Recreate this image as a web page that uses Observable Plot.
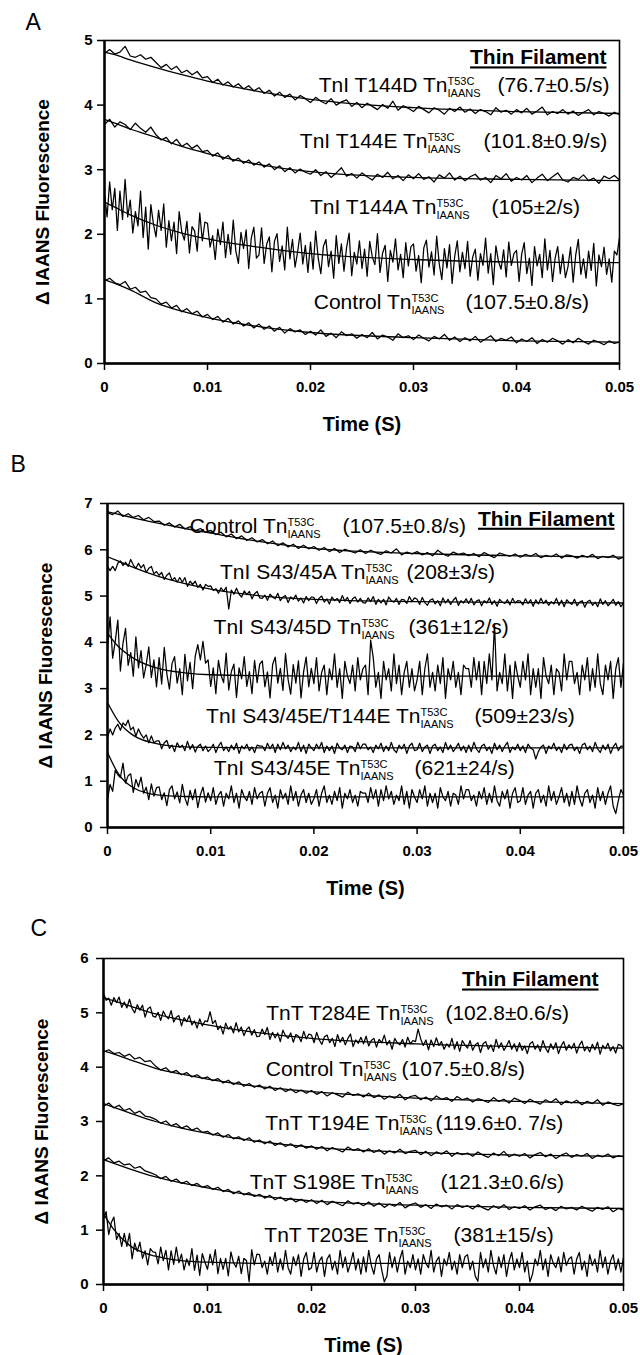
<!DOCTYPE html>
<html><head><meta charset="utf-8">
<script src="https://cdn.jsdelivr.net/npm/d3@7"></script>
<script src="https://cdn.jsdelivr.net/npm/@observablehq/plot@0.6"></script>
<style>body{margin:0;background:#fff;} svg{display:block;}</style>
</head><body><div id="chart"></div>
<script>
// ---------- shared ----------
const traceSpan = 0.05;                // every recorded trace covers 0–0.05 s, evenly sampled
const xTicks = [0, 0.01, 0.02, 0.03, 0.04, 0.05];
const fitTimes = [0, 0.001, 0.0025, 0.005, 0.0075, 0.01, 0.015, 0.02, 0.03, 0.04, 0.05];
const supText = "T53C";
const subText = "IAANS";
const thinText = "Thin Filament";

// ---------- Panel A ----------
const aYTicks = [0, 1, 2, 3, 4, 5];
const aT144D = [4.80,4.86,4.79,4.82,4.91,4.76,4.74,4.78,4.71,4.74, 4.66,4.58,4.63,4.55,4.60,4.50,4.54,4.47,4.52,4.42, 4.44,4.35,4.40,4.31,4.36,4.28,4.33,4.25,4.30,4.22, 4.27,4.18,4.23,4.14,4.20,4.12,4.17,4.08,4.15,4.10, 4.04,4.12,4.06,4.02,4.10,4.00,4.05,4.08,3.98,4.04, 3.96,4.03,3.98,3.93,4.01,3.95,4.06,3.92,3.99,3.95, 3.90,3.98,3.93,3.88,3.96,3.92,3.86,3.95,3.90,3.97, 3.89,3.94,3.87,3.93,3.90,3.85,3.96,3.89,3.92,3.86, 3.93,3.88,3.95,3.86,3.91,3.97,3.85,3.90,3.87,3.93, 3.86,3.91,3.84,3.89,3.93,3.85,3.90,3.87,3.83,3.89, 3.85];
const aT144E = [3.70,3.78,3.66,3.74,3.70,3.62,3.72,3.64,3.58,3.66, 3.54,3.46,3.50,3.40,3.47,3.36,3.41,3.33,3.38,3.28, 3.30,3.21,3.26,3.16,3.22,3.13,3.18,3.10,3.15,3.07, 3.12,3.04,3.09,3.00,3.06,2.97,3.03,2.95,3.01,2.96, 2.93,3.00,2.91,2.97,2.88,2.95,3.03,2.90,2.94,2.87, 2.95,2.89,2.84,2.93,2.88,2.96,2.86,2.91,2.83,2.92, 2.86,2.94,2.85,2.89,2.81,2.92,2.87,2.95,2.84,2.90, 2.83,2.89,2.93,2.84,2.88,2.80,2.91,2.86,2.94,2.82, 2.88,2.84,2.91,2.80,2.87,2.93,2.83,2.89,2.95,2.84, 2.81,2.88,2.85,2.92,2.83,2.87,2.79,2.90,2.86,2.91, 2.84];
const aT144A = [2.64,2.27,2.81,2.38,2.71,2.06,2.67,2.23,2.85,2.27,2.53,2.02,2.35,2.13,2.67,1.95,2.42,1.77,2.46,2.16,
 1.96,2.37,2.06,2.47,1.80,2.21,1.90,2.19,1.70,2.35,2.04,1.91,2.20,1.71,2.12,2.05,1.74,2.33,1.90,2.19,
 2.17,1.80,1.98,1.61,2.08,1.84,2.19,1.64,2.00,1.69,2.22,1.74,1.55,2.03,1.78,2.07,1.47,1.94,2.11,1.63,
 1.68,2.10,1.55,1.85,1.96,1.42,1.89,2.01,1.58,1.82,1.45,2.11,1.62,1.92,1.49,1.73,2.02,1.54,1.83,1.41,
 1.88,1.46,2.05,1.63,1.39,1.81,1.92,1.50,1.74,1.32,1.98,1.55,1.85,1.43,1.79,2.02,1.36,1.72,1.54,1.90,
 1.47,1.77,1.35,1.89,1.65,1.53,2.01,1.41,1.71,1.83,1.27,1.75,1.57,1.93,1.45,1.69,1.33,1.87,1.51,1.81,
 1.85,1.43,1.67,1.25,1.79,1.91,1.49,1.73,1.37,1.97,1.54,1.30,1.78,1.48,1.84,1.24,1.66,1.90,1.42,1.72,
 1.47,1.89,1.35,1.65,1.77,1.29,1.70,1.52,1.94,1.40,1.70,1.22,1.82,1.58,1.46,1.76,1.34,1.88,1.52,1.70,
 1.75,1.27,1.69,1.87,1.39,1.63,1.21,1.81,1.51,1.69,1.33,1.93,1.45,1.75,1.27,1.63,1.81,1.39,1.69,1.33,
 1.50,1.80,1.26,1.68,1.92,1.38,1.62,1.32,1.74,1.44,1.86,1.20,1.68,1.50,1.80,1.38,1.62,1.26,1.74,1.68,
 1.95];
const aControl = [1.28,1.32,1.25,1.22,1.27,1.15,1.18,1.10,1.12,1.02, 1.00,0.92,0.95,0.86,0.90,0.80,0.85,0.77,0.81,0.72, 0.76,0.68,0.73,0.64,0.70,0.61,0.66,0.58,0.63,0.55, 0.61,0.53,0.58,0.50,0.56,0.47,0.54,0.49,0.52,0.45, 0.50,0.44,0.52,0.42,0.47,0.40,0.49,0.43,0.46,0.39, 0.45,0.40,0.48,0.38,0.44,0.41,0.36,0.46,0.40,0.43, 0.37,0.44,0.39,0.35,0.42,0.38,0.45,0.36,0.41,0.34, 0.40,0.35,0.42,0.33,0.38,0.43,0.34,0.39,0.36,0.41, 0.32,0.38,0.34,0.40,0.31,0.37,0.33,0.39,0.35,0.30, 0.37,0.32,0.39,0.34,0.30,0.36,0.33,0.29,0.35,0.31, 0.33];
const aFitT144D = [4.82,4.78,4.70,4.58,4.47,4.37,4.21,4.09,3.96,3.90,3.87];
const aFitT144E = [3.78,3.72,3.63,3.50,3.36,3.25,3.08,2.97,2.88,2.85,2.83];
const aFitT144A = [2.50,2.42,2.30,2.14,2.02,1.93,1.80,1.70,1.61,1.57,1.56];
const aFitControl = [1.30,1.24,1.14,0.94,0.81,0.71,0.57,0.48,0.40,0.35,0.33];
const aLabelPrefix = ["TnI T144D Tn", "TnI T144E Tn", "TnI T144A Tn", "Control Tn"];
const aLabelRate = ["(76.7±0.5/s)", "(101.8±0.9/s)", "(105±2/s)", "(107.5±0.8/s)"];
const aLabelY = [4.21, 3.33, 2.32, 0.836];
const aLabelJoinX = [0.0333, 0.03136, 0.03223, 0.0298];
const aLabelRateX = [0.03816, 0.0368, 0.03757, 0.03505];

// ---------- Panel B ----------
const bYTicks = [0, 1, 2, 3, 4, 5, 6, 7];
const bControl = [6.80,6.76,6.84,6.72,6.78,6.70,6.74,6.65,6.70,6.61, 6.62,6.53,6.58,6.49,6.55,6.45,6.50,6.41,6.46,6.38, 6.42,6.33,6.38,6.28,6.34,6.24,6.30,6.20,6.26,6.17, 6.22,6.13,6.19,6.09,6.15,6.06,6.12,6.03,6.10,6.02, 6.07,5.99,6.05,5.96,6.03,5.94,6.01,5.97,5.93,6.00, 5.92,5.99,5.94,5.90,5.98,5.93,6.02,5.89,5.95,5.91, 5.96,5.89,5.94,5.87,5.99,5.91,5.86,5.95,5.90,5.93, 5.87,5.92,5.85,5.94,5.88,5.83,5.93,5.89,5.86,5.91, 5.84,5.90,5.86,5.92,5.83,5.88,5.85,5.91,5.82,5.89, 5.87,5.82,5.88,5.84,5.90,5.81,5.86,5.83,5.88,5.80, 5.84];
const bS4345A = [5.64,5.55,5.64,5.55,5.71,5.76,5.66,5.73,5.64,5.79,5.67,5.60,5.71,5.61,5.68,5.51,5.60,5.64,5.48,5.53,
 5.45,5.51,5.36,5.45,5.50,5.34,5.40,5.30,5.40,5.30,5.40,5.21,5.32,5.25,5.32,5.19,5.25,5.13,5.25,5.21,
 5.22,5.12,5.16,5.06,5.18,5.10,5.19,4.72,5.13,5.04,5.17,5.04,4.98,5.11,5.03,5.10,4.94,5.05,5.10,4.96,
 4.95,5.02,4.91,5.04,4.98,4.94,5.06,4.90,4.98,5.01,4.86,4.98,4.93,5.02,4.89,4.96,4.85,4.99,4.90,4.98,
 4.97,4.84,4.95,5.00,4.87,4.94,4.83,4.98,4.90,4.95,4.86,5.01,4.89,4.97,4.84,4.94,4.98,4.87,4.95,4.86,
 4.85,4.96,4.88,4.99,4.82,4.93,4.85,4.93,4.81,4.98,4.90,4.87,4.95,4.82,4.93,4.92,4.84,4.99,4.88,4.96,
 4.93,4.82,4.97,4.86,4.80,4.91,4.94,4.83,4.90,4.79,4.96,4.85,4.93,4.82,4.91,4.97,4.80,4.90,4.85,4.94,
 4.84,4.95,4.81,4.89,4.92,4.79,4.90,4.85,4.96,4.82,4.90,4.78,4.93,4.87,4.84,4.92,4.81,4.95,4.85,4.90,
 4.89,4.81,4.94,4.84,4.92,4.78,4.92,4.83,4.95,4.84,4.91,4.80,4.88,4.83,4.95,4.80,4.91,4.77,4.92,4.86,
 4.82,4.93,4.79,4.87,4.90,4.76,4.88,4.91,4.80,4.87,4.77,4.94,4.82,4.90,4.79,4.85,4.93,4.80,4.88,4.77,
 4.86];
const bS4345D = [3.89,4.55,3.66,4.02,4.48,3.38,3.98,4.30,3.50,3.78,3.27,4.12,3.45,3.82,3.23,3.52,3.90,3.24,3.62,3.04,
 3.67,3.10,3.89,3.32,2.99,3.54,3.69,3.12,3.43,2.87,3.74,3.17,3.57,3.00,3.70,3.95,3.62,4.02,3.55,3.62,
 3.05,3.45,2.89,3.61,3.29,3.13,3.77,2.97,3.37,3.53,2.81,3.45,3.21,3.69,3.05,3.37,2.89,3.61,3.13,3.53,
 3.60,3.04,3.36,2.80,3.52,3.68,3.12,3.44,2.96,3.76,3.20,2.88,3.52,3.12,3.60,2.80,3.36,3.68,3.04,3.44,
 3.11,3.67,2.95,3.35,3.51,2.87,3.43,3.19,3.75,3.03,3.43,2.79,3.59,3.27,3.11,3.51,2.95,3.67,3.19,3.43,
 3.51,2.87,4.05,3.67,3.03,3.35,2.79,3.59,3.19,3.43,2.95,3.75,3.11,3.51,2.87,3.35,3.59,3.03,3.43,2.95,
 3.19,3.59,2.87,3.43,3.75,3.03,3.35,2.95,3.51,3.11,3.67,2.79,3.43,3.19,3.59,3.03,3.35,2.87,3.51,3.43,
 3.43,3.03,3.67,3.19,3.59,2.87,3.59,3.11,3.75,3.19,4.40,2.95,3.35,3.11,3.75,2.95,3.51,2.79,3.59,3.27,
 3.03,3.59,3.19,3.75,2.87,3.43,3.03,3.43,2.79,3.67,3.27,3.11,3.51,2.87,3.43,3.35,2.95,3.75,3.19,3.59,
 3.59,3.11,3.35,2.87,3.51,3.19,3.67,2.95,3.43,3.03,3.75,3.11,2.87,3.51,3.19,3.59,2.79,3.43,3.67,3.03,
 3.55];
const bS4345ET144E = [1.94,2.13,2.00,2.15,2.23,2.10,2.26,2.20,2.32,2.11,2.17,1.97,2.13,2.01,1.93,2.00,1.83,1.98,1.83,1.87,
 1.87,1.70,1.83,1.88,1.71,1.78,1.64,1.83,1.73,1.78,1.66,1.86,1.69,1.79,1.63,1.75,1.80,1.66,1.76,1.64,
 1.70,1.80,1.62,1.76,1.84,1.66,1.74,1.64,1.78,1.68,1.82,1.60,1.76,1.70,1.80,1.66,1.74,1.62,1.78,1.76,
 1.76,1.66,1.82,1.70,1.80,1.62,1.80,1.68,1.84,1.70,1.78,1.64,1.74,1.68,1.84,1.64,1.78,1.60,1.80,1.72,
 1.66,1.80,1.70,1.84,1.62,1.76,1.66,1.76,1.60,1.82,1.72,1.68,1.78,1.62,1.76,1.74,1.64,1.84,1.70,1.80,
 1.80,1.68,1.74,1.62,1.78,1.70,1.82,1.64,1.76,1.66,1.84,1.68,1.62,1.78,1.70,1.80,1.60,1.76,1.82,1.66,
 1.68,1.82,1.64,1.74,1.78,1.60,1.76,1.80,1.66,1.74,1.62,1.84,1.68,1.78,1.64,1.72,1.82,1.66,1.76,1.62,
 1.78,1.64,1.84,1.70,1.62,1.76,1.80,1.66,1.74,1.60,1.82,1.68,1.78,1.64,1.76,1.84,1.62,1.74,1.68,1.80,
 1.66,1.76,1.62,1.80,1.72,1.68,1.48,1.64,1.74,1.78,1.60,1.76,1.70,1.82,1.66,1.74,1.62,1.80,1.68,1.78,
 1.80,1.66,1.74,1.60,1.78,1.82,1.68,1.76,1.64,1.84,1.70,1.62,1.78,1.68,1.80,1.60,1.74,1.82,1.66,1.76,
 1.76];
const bS4345E = [0.60,0.93,0.78,1.24,1.14,1.08,1.39,0.96,1.12,1.16,0.76,1.04,0.88,1.09,0.74,0.87,0.60,0.94,0.68,0.86,
 0.88,0.60,0.75,0.47,0.82,0.90,0.62,0.77,0.53,0.93,0.64,0.48,0.80,0.60,0.83,0.43,0.71,0.87,0.55,0.75,
 0.58,0.86,0.50,0.70,0.78,0.46,0.74,0.62,0.90,0.54,0.74,0.42,0.82,0.66,0.58,0.78,0.50,0.86,0.62,0.74,
 0.78,0.46,0.74,0.86,0.54,0.70,0.42,0.82,0.62,0.74,0.50,0.90,0.58,0.78,0.46,0.70,0.82,0.54,0.74,0.50,
 0.62,0.82,0.46,0.74,0.90,0.54,0.70,0.50,0.78,0.58,0.86,0.42,0.74,0.62,0.82,0.54,0.70,0.46,0.78,0.74,
 0.74,0.54,0.86,0.62,0.82,0.46,0.82,0.58,0.90,0.62,0.78,0.50,0.70,0.58,0.90,0.50,0.78,0.42,0.82,0.66,
 0.54,0.82,0.62,0.90,0.46,0.74,0.54,0.74,0.42,0.86,0.66,0.58,0.78,0.46,0.74,0.70,0.50,0.90,0.62,0.82,
 0.82,0.58,0.70,0.46,0.78,0.62,0.86,0.50,0.74,0.54,0.90,0.58,0.46,0.78,0.62,0.82,0.42,0.74,0.86,0.54,
 0.58,0.86,0.50,0.70,0.78,0.42,0.74,0.82,0.54,0.70,0.46,0.90,0.58,0.78,0.50,0.66,0.86,0.54,0.74,0.46,
 0.78,0.50,0.90,0.62,0.46,0.74,0.82,0.54,0.70,0.42,0.86,0.58,0.78,0.50,0.74,0.90,0.46,0.30,0.58,0.82,
 0.70];
const bFitControl = [6.82,6.77,6.69,6.57,6.46,6.36,6.17,6.03,5.92,5.87,5.84];
const bFitS4345A = [5.85,5.76,5.62,5.42,5.27,5.15,5.00,4.93,4.88,4.86,4.85];
const bFitS4345D = [4.20,3.92,3.66,3.43,3.34,3.30,3.28,3.27,3.27,3.27,3.27];
const bFitS4345ET144E = [2.70,2.31,1.99,1.80,1.74,1.73,1.72,1.72,1.72,1.72,1.72];
const bFitS4345E = [1.62,1.18,0.86,0.70,0.67,0.66,0.66,0.66,0.66,0.66,0.66];
const bLabelPrefix = ["Control Tn", "TnI S43/45A Tn", "TnI S43/45D Tn", "TnI S43/45E/T144E Tn", "TnI S43/45E Tn"];
const bLabelRate = ["(107.5±0.8/s)", "(208±3/s)", "(361±12/s)", "(509±23/s)", "(621±24/s)"];
const bLabelY = [6.37, 5.36, 4.19, 2.25, 1.145];
const bLabelJoinX = [0.01744, 0.0250, 0.02461, 0.03033, 0.02452];
const bLabelRateX = [0.02277, 0.02897, 0.02917, 0.03556, 0.02975];

// ---------- Panel C ----------
const cYTicks = [0, 1, 2, 3, 4, 5, 6];
const cT284E = [5.36,5.23,5.27,5.14,5.28,5.19,5.29,5.10,5.20,5.09,5.25,5.08,5.00,5.15,5.05,5.14,4.92,5.07,5.11,4.94,
 4.92,5.01,4.86,5.03,4.94,4.89,5.04,4.83,4.92,4.95,4.76,4.91,4.84,4.95,4.78,4.85,4.72,4.89,4.76,4.85,
 4.84,5.02,4.80,4.86,4.69,4.76,4.61,4.81,4.70,4.75,4.63,4.82,4.65,4.74,4.58,4.69,4.74,4.59,4.69,4.56,
 4.57,4.70,4.60,4.73,4.51,4.64,4.54,4.63,4.47,4.68,4.58,4.53,4.63,4.46,4.60,4.57,4.47,4.66,4.52,4.61,
 4.59,4.45,4.64,4.50,4.42,4.56,4.59,4.45,4.53,4.38,4.60,4.46,4.55,4.41,4.53,4.61,4.38,4.50,4.44,4.55,
 4.43,4.57,4.39,4.49,4.53,4.37,4.51,4.45,4.59,4.41,4.49,4.33,4.53,4.45,4.41,4.51,4.37,4.55,4.43,4.49,
 4.47,4.70,4.52,4.40,4.50,4.32,4.50,4.38,4.54,4.40,4.47,4.33,4.43,4.37,4.53,4.33,4.47,4.29,4.49,4.41,
 4.35,4.49,4.31,4.41,4.45,4.27,4.43,4.47,4.33,4.41,4.29,4.51,4.35,4.45,4.31,4.39,4.49,4.33,4.43,4.29,
 4.45,4.31,4.39,4.25,4.43,4.47,4.33,4.41,4.29,4.49,4.35,4.27,4.43,4.33,4.45,4.25,4.39,4.47,4.31,4.41,
 4.34,4.44,4.26,4.40,4.48,4.30,4.38,4.28,4.42,4.32,4.46,4.24,4.40,4.34,4.44,4.30,4.38,4.26,4.42,4.40,
 4.32];
const cControl = [4.28,4.32,4.25,4.27,4.20,4.24,4.15,4.18,4.10,4.12, 4.02,3.95,3.99,3.90,3.94,3.86,3.90,3.82,3.86,3.79, 3.82,3.75,3.79,3.71,3.76,3.68,3.73,3.65,3.70,3.63, 3.67,3.60,3.65,3.57,3.62,3.55,3.60,3.53,3.58,3.52, 3.57,3.50,3.55,3.47,3.53,3.49,3.45,3.54,3.48,3.51, 3.45,3.52,3.44,3.49,3.41,3.47,3.43,3.50,3.40,3.46, 3.48,3.40,3.45,3.38,3.47,3.41,3.44,3.37,3.46,3.40, 3.43,3.36,3.42,3.39,3.35,3.44,3.37,3.41,3.34,3.43, 3.39,3.33,3.41,3.36,3.32,3.40,3.35,3.42,3.31,3.38, 3.34,3.39,3.31,3.37,3.33,3.40,3.30,3.36,3.32,3.29, 3.33];
const cT194E = [3.28,3.34,3.25,3.30,3.20,3.24,3.15,3.19,3.10,3.08, 3.04,2.97,3.01,2.92,2.96,2.88,2.92,2.84,2.88,2.80, 2.82,2.75,2.79,2.71,2.76,2.68,2.72,2.65,2.70,2.62, 2.66,2.59,2.64,2.56,2.61,2.54,2.59,2.52,2.57,2.51, 2.55,2.49,2.54,2.46,2.52,2.48,2.44,2.53,2.47,2.50, 2.44,2.50,2.43,2.48,2.40,2.46,2.42,2.49,2.41,2.45, 2.47,2.39,2.45,2.37,2.44,2.40,2.46,2.36,2.43,2.39, 2.42,2.36,2.44,2.38,2.34,2.42,2.37,2.45,2.35,2.40, 2.36,2.41,2.33,2.39,2.43,2.35,2.40,2.32,2.38,2.42, 2.34,2.39,2.36,2.41,2.32,2.38,2.35,2.40,2.33,2.37, 2.35];
const cS198E = [2.28,2.33,2.24,2.27,2.20,2.22,2.14,2.17,2.09,2.06, 2.02,1.95,1.99,1.90,1.94,1.86,1.90,1.82,1.86,1.79, 1.82,1.75,1.79,1.71,1.75,1.67,1.72,1.65,1.69,1.62, 1.66,1.59,1.64,1.56,1.61,1.54,1.59,1.52,1.57,1.51, 1.56,1.49,1.55,1.47,1.53,1.49,1.45,1.54,1.48,1.51, 1.45,1.52,1.44,1.50,1.42,1.48,1.44,1.51,1.41,1.47, 1.50,1.42,1.47,1.40,1.48,1.43,1.46,1.39,1.47,1.42, 1.45,1.39,1.47,1.41,1.37,1.45,1.40,1.47,1.38,1.43, 1.40,1.45,1.37,1.43,1.46,1.38,1.42,1.36,1.44,1.39, 1.42,1.37,1.44,1.39,1.35,1.42,1.38,1.43,1.34,1.40, 1.37];
const cT203E = [1.21,1.34,0.92,1.14,1.24,0.83,0.94,0.70,0.94,0.70,0.94,0.47,0.76,0.61,0.78,0.48,0.62,0.36,0.66,0.60,
 0.59,0.38,0.69,0.44,0.63,0.27,0.62,0.37,0.69,0.40,0.56,0.27,0.47,0.35,0.66,0.26,0.54,0.17,0.57,0.41,
 0.28,0.56,0.36,0.64,0.20,0.48,0.28,0.48,0.16,0.60,0.40,0.32,0.52,0.20,0.48,0.44,0.05,0.64,0.36,0.56,
 0.55,0.31,0.43,0.19,0.51,0.35,0.59,0.23,0.47,0.27,0.63,0.31,0.19,0.51,0.35,0.55,0.15,0.47,0.59,0.27,
 0.31,0.59,0.23,0.43,0.51,0.15,0.47,0.55,0.27,0.43,0.19,0.63,0.31,0.51,0.23,0.39,0.59,0.27,0.47,0.19,
 0.51,0.23,0.63,0.35,0.19,0.47,0.55,0.27,0.05,0.15,0.59,0.31,0.51,0.23,0.47,0.63,0.19,0.43,0.31,0.55,
 0.27,0.47,0.19,0.55,0.39,0.31,0.63,0.23,0.43,0.51,0.15,0.47,0.35,0.59,0.27,0.43,0.19,0.55,0.31,0.51,
 0.55,0.27,0.43,0.15,0.06,0.59,0.31,0.47,0.23,0.63,0.35,0.19,0.51,0.31,0.55,0.15,0.43,0.59,0.27,0.47,
 0.31,0.59,0.23,0.43,0.05,0.19,0.47,0.35,0.63,0.27,0.47,0.15,0.55,0.39,0.31,0.51,0.23,0.59,0.35,0.47,
 0.51,0.19,0.47,0.59,0.27,0.43,0.15,0.55,0.35,0.47,0.23,0.63,0.31,0.51,0.19,0.43,0.55,0.27,0.47,0.23,
 0.50];
const cFitT284E = [5.28,5.22,5.13,4.98,4.87,4.78,4.63,4.53,4.43,4.38,4.35];
const cFitControl = [4.30,4.24,4.14,3.98,3.87,3.78,3.64,3.55,3.43,3.37,3.33];
const cFitT194E = [3.33,3.26,3.16,3.00,2.88,2.78,2.63,2.53,2.43,2.38,2.36];
const cFitS198E = [2.30,2.23,2.13,1.98,1.87,1.78,1.63,1.54,1.46,1.42,1.40];
const cFitT203E = [1.30,1.01,0.72,0.52,0.44,0.41,0.39,0.39,0.39,0.39,0.39];
const cLabelPrefix = ["TnT T284E Tn", "Control Tn", "TnT T194E Tn", "TnT S198E Tn", "TnT T203E Tn"];
const cLabelRate = ["(102.8±0.6/s)", "(107.5±0.8/s)", "(119.6±0. 7/s)", "(121.3±0.6/s)", "(381±15/s)"];
const cLabelY = [4.86, 3.83, 2.85, 1.75, 0.79];
const cLabelJoinX = [0.02856, 0.0250, 0.02846, 0.02712, 0.02837];
const cLabelRateX = [0.03288, 0.02865, 0.03192, 0.0324, 0.03365];

// ---------- drawing ----------
const FONT = "'Liberation Sans', Arial, Helvetica, sans-serif";

function panel(cfg) {
  const rows = cfg.series.flatMap((vals, s) => {
    const step = traceSpan / (vals.length - 1);
    return vals.map((v, i) => ({t: i * step, v, s}));
  });
  const fitRows = cfg.fits.flatMap((vals, s) => vals.map((v, i) => ({t: fitTimes[i], v, s})));
  const labels = cfg.prefix.map((p, i) => ({p, r: cfg.rate[i], y: cfg.ly[i], jx: cfg.jx[i], rx: cfg.rx[i]}));
  const yMax = cfg.yTicks[cfg.yTicks.length - 1];
  const svg = Plot.plot({
    width: 640,
    height: cfg.height,
    marginTop: cfg.mt, marginBottom: cfg.mb, marginLeft: cfg.ml, marginRight: cfg.mr,
    style: {fontFamily: FONT, fontSize: "15px", fontWeight: "bold", background: "#fff", color: "#000", overflow: "visible"},
    x: {domain: [0, 0.05]},
    y: {domain: [0, yMax]},
    marks: [
      Plot.line(rows, {x: "t", y: "v", z: "s", stroke: "#000", strokeWidth: 1.25}),
      Plot.line(fitRows, {x: "t", y: "v", z: "s", stroke: "#000", strokeWidth: 1.3, curve: "monotone-x"}),
      Plot.frame({stroke: "#000", strokeWidth: 1.6}),
      Plot.ruleX([0], {stroke: "#000", strokeWidth: 2.4}),
      Plot.ruleY([0], {stroke: "#000", strokeWidth: 2.6}),
      Plot.axisX({ticks: xTicks, tickFormat: d => d === 0 ? "0" : String(d), tickSize: 7, tickPadding: 11, strokeWidth: 1.5, label: null, fontSize: 15, fontWeight: "bold"}),
      Plot.axisY({ticks: cfg.yTicks, tickFormat: d => String(d), tickSize: 7, tickPadding: cfg.yPad, strokeWidth: 1.5, label: null, fontSize: 15, fontWeight: "bold"}),
      Plot.text(labels, {x: "jx", y: "y", text: "p", textAnchor: "end", lineAnchor: "bottom", fontSize: 21, fontWeight: "normal"}),
      Plot.text(labels, {x: "jx", y: "y", text: () => supText, textAnchor: "start", lineAnchor: "bottom", dy: -7, fontSize: 11, fontWeight: "normal"}),
      Plot.text(labels, {x: "jx", y: "y", text: () => subText, textAnchor: "start", lineAnchor: "bottom", dy: 5, fontSize: 11, fontWeight: "normal"}),
      Plot.text(labels, {x: "rx", y: "y", text: "r", textAnchor: "start", lineAnchor: "bottom", fontSize: 21, fontWeight: "normal"}),
      Plot.text([thinText], {x: () => cfg.thinX, y: () => cfg.thinY, text: d => d, textAnchor: "end", lineAnchor: "bottom", fontSize: 21, fontWeight: "bold"}),
      Plot.text(["Time (S)"], {frameAnchor: "bottom", dy: 67, textAnchor: "middle", lineAnchor: "bottom", fontSize: 20, fontWeight: "bold"}),
      Plot.text(["Δ IAANS Fluorescence"], {frameAnchor: "left", dx: -62, rotate: -90, textAnchor: "middle", lineAnchor: "middle", fontSize: 19, fontWeight: "bold"}),
      Plot.text([cfg.letter], {frameAnchor: "top-left", dx: cfg.letterDx, dy: cfg.letterDy, textAnchor: "start", lineAnchor: "bottom", fontSize: 23, fontWeight: "normal"})
    ]
  });
  d3.select(svg).selectAll("text").filter(function () { return this.textContent === thinText; })
    .style("text-decoration", "underline");
  return svg;
}

const root = document.getElementById("chart");
root.appendChild(panel({
  letter: "A", letterDx: -79, letterDy: -11,
  height: 460, mt: 40, mb: 97, ml: 104, mr: 21, yPad: 5,
  yTicks: aYTicks,
  series: [aT144D, aT144E, aT144A, aControl],
  fits: [aFitT144D, aFitT144E, aFitT144A, aFitControl],
  prefix: aLabelPrefix, rate: aLabelRate, ly: aLabelY, jx: aLabelJoinX, rx: aLabelRateX,
  thinX: 0.04874, thinY: 4.63
}));
root.appendChild(panel({
  letter: "B", letterDx: -97, letterDy: -32,
  height: 455, mt: 43, mb: 88, ml: 107, mr: 17, yPad: 8,
  yTicks: bYTicks,
  series: [bControl, bS4345A, bS4345D, bS4345ET144E, bS4345E],
  fits: [bFitControl, bFitS4345A, bFitS4345D, bFitS4345ET144E, bFitS4345E],
  prefix: bLabelPrefix, rate: bLabelRate, ly: bLabelY, jx: bLabelJoinX, rx: bLabelRateX,
  thinX: 0.04913, thinY: 6.52
}));
root.appendChild(panel({
  letter: "C", letterDx: -73, letterDy: -23,
  height: 440, mt: 43, mb: 71, ml: 103, mr: 17, yPad: 8,
  yTicks: cYTicks,
  series: [cT284E, cControl, cT194E, cS198E, cT203E],
  fits: [cFitT284E, cFitControl, cFitT194E, cFitS198E, cFitT203E],
  prefix: cLabelPrefix, rate: cLabelRate, ly: cLabelY, jx: cLabelJoinX, rx: cLabelRateX,
  thinX: 0.0476, thinY: 5.485
}));
</script></body></html>
